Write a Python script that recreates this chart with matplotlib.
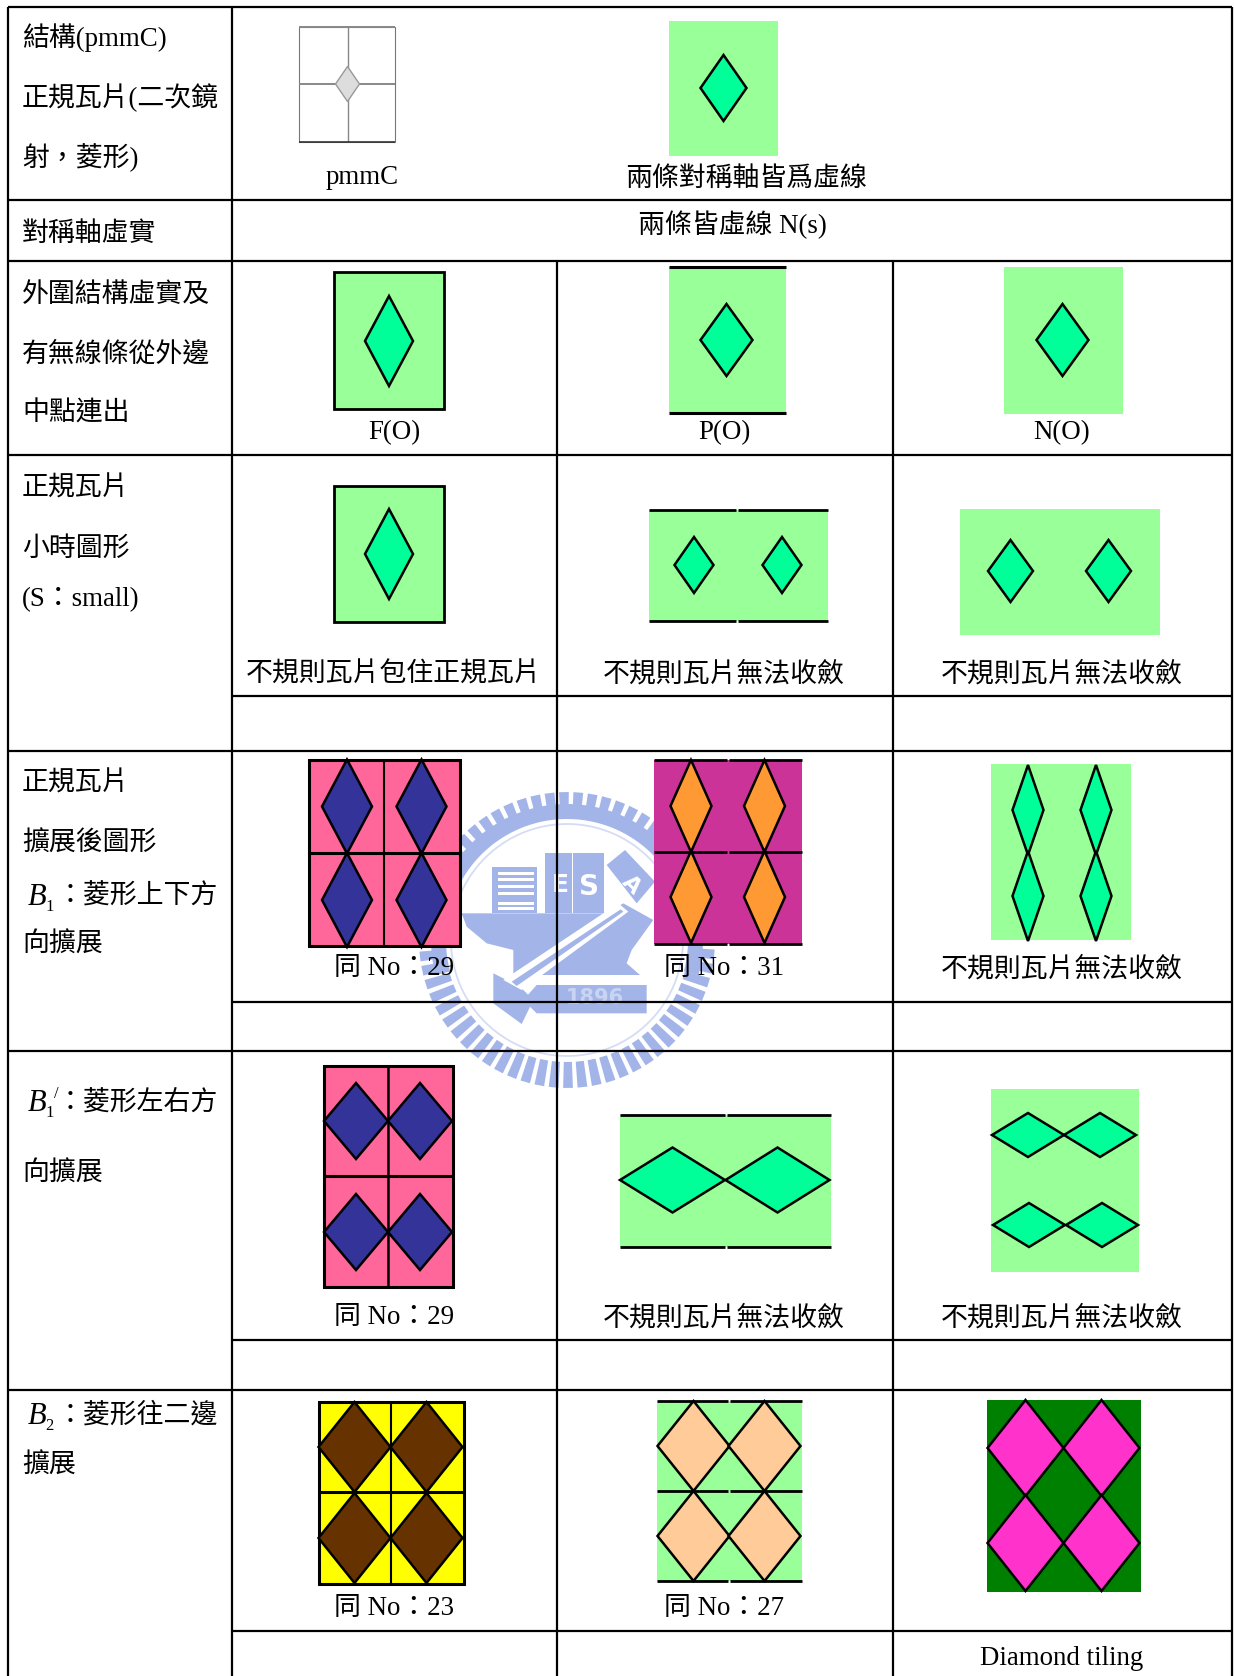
import numpy as np
import matplotlib
matplotlib.use("Agg")
import matplotlib.pyplot as plt
from matplotlib.patches import Rectangle, Polygon

FONTS = ['Liberation Serif', 'Noto Sans CJK TC', 'DejaVu Sans']
plt.rcParams['font.family'] = FONTS

# ---------- text content ----------
row_headers = ["結構(pmmC)", "正規瓦片(二次鏡", "射，菱形)", "對稱軸虛實",
               "外圍結構虛實及", "有無線條從外邊", "中點連出",
               "正規瓦片", "小時圖形", "(S：small)",
               "正規瓦片", "擴展後圖形", "向擴展", "向擴展", "擴展"]
row_header_y = [36, 97, 157, 231, 292, 352, 411, 486, 546, 597, 781, 841, 942, 1171, 1463]
math_headers = ["：菱形上下方", "：菱形左右方", "：菱形往二邊"]
math_header_y = [894, 1100, 1413]
math_subs = ["1", "1", "2"]

captions = ["pmmC", "兩條對稱軸皆爲虛線", "兩條皆虛線 N(s)",
            "F(O)", "P(O)", "N(O)",
            "不規則瓦片包住正規瓦片", "不規則瓦片無法收斂", "不規則瓦片無法收斂",
            "同 No：29", "同 No：31", "不規則瓦片無法收斂",
            "同 No：29", "不規則瓦片無法收斂", "不規則瓦片無法收斂",
            "同 No：23", "同 No：27", "Diamond tiling"]
caption_x = [362.5, 746, 732, 394, 724, 1062, 394, 724, 1062,
             394, 724, 1062, 394, 724, 1062, 394, 724, 1062]
caption_y = [175, 176, 224, 430, 430, 430, 672, 672, 672,
             965, 965, 967, 1314, 1316, 1316, 1605, 1605, 1655]

# ---------- table grid ----------
h_full = [7, 200, 261, 455, 751, 1051, 1390]
h_part = [696, 1002, 1340, 1631]
v_left, v_c1, v_c2, v_c3, v_right = 8, 232, 557, 893, 1232

GREEN, MINT = '#99FF99', '#00FF99'
PINK, NAVY = '#FF6699', '#333399'
PURPLE, ORANGE = '#CC3399', '#FF9933'
YELLOW, BROWN = '#FFFF00', '#663300'
PEACH = '#FFCC99'
DKGREEN, MAGENTA = '#008000', '#FF33CC'
LOGO = '#A3B5E8'

fig = plt.figure(figsize=(12.34, 16.76), dpi=100, facecolor='white')
ax = fig.add_axes([0, 0, 1, 1])
ax.set_xlim(0, 1234)
ax.set_ylim(1676, 0)
ax.axis('off')


# ---------- watermark ----------
def logo():
    cx, cy = 567, 940
    z = 2
    # teeth
    for a in np.arange(0, 360, 5.6):
        t = np.radians([a - 1.9, a + 1.9, a + 1.9, a - 1.9])
        r = np.array([122, 122, 148, 148])
        ax.add_patch(Polygon(np.c_[cx + r * np.cos(t), cy + r * np.sin(t)],
                             fc=LOGO, ec='none', zorder=z))
    # solid band, upper part
    t = np.radians(np.linspace(165, 375, 120))
    pts = np.r_[np.c_[cx + 136 * np.cos(t), cy + 136 * np.sin(t)],
                np.c_[cx + 121 * np.cos(t[::-1]), cy + 121 * np.sin(t[::-1])]]
    ax.add_patch(Polygon(pts, fc=LOGO, ec='none', zorder=z))
    # thin inner ring
    t = np.radians(np.linspace(0, 360, 200))
    ax.plot(cx + 116 * np.cos(t), cy + 116 * np.sin(t), color='#D5DDF4', lw=1.3, zorder=z)

    def zp(points, fc=LOGO):
        arr = np.array(points, float)
        ax.add_patch(Polygon(np.c_[410 + arr[:, 0] / 3, 770 + arr[:, 1] / 3],
                             fc=fc, ec='none', zorder=z + 0.1))
    # hull
    zp([(155, 430), (590, 430), (640, 400), (730, 450), (665, 540), (650, 580),
        (690, 615), (310, 615), (310, 540), (230, 520), (170, 470)])
    # cabins
    zp([(245, 290), (380, 290), (380, 430), (245, 430)])
    zp([(405, 250), (485, 250), (485, 430), (405, 430)])
    zp([(490, 250), (582, 250), (582, 430), (490, 430)])
    zp([(590, 285), (645, 240), (735, 335), (680, 400)])
    for yy in (305, 325, 345, 365, 395, 412):
        zp([(265, yy), (372, yy), (372, yy + 9), (265, yy + 9)], 'white')
    # diagonal
    zp([(250, 610), (330, 650), (370, 690), (335, 762), (250, 700)])
    zp([(280, 630), (625, 400), (655, 425), (335, 660)], 'white')
    zp([(305, 635), (632, 418), (640, 425), (320, 648)])
    # 1896 plate
    zp([(380, 645), (710, 645), (710, 730), (380, 730), (340, 690)])
    ax.text(410 + 555 / 3, 770 + 685 / 3, "1896", color='#C9D4F3', fontsize=15, fontweight='bold',
            ha='center', va='center', family=['DejaVu Sans'], zorder=z + 0.2)
    ax.text(410 + 452 / 3, 770 + 345 / 3, "E", color='white', fontsize=18, fontweight='bold',
            ha='center', va='center', family=['DejaVu Sans'], zorder=z + 0.2)
    ax.text(410 + 536 / 3, 770 + 350 / 3, "S", color='white', fontsize=20, fontweight='bold',
            ha='center', va='center', family=['DejaVu Sans'], zorder=z + 0.2)
    ax.text(410 + 665 / 3, 770 + 345 / 3, "A", color='white', fontsize=16, fontweight='bold',
            ha='center', va='center', rotation=-45, family=['DejaVu Sans'], zorder=z + 0.2)


logo()

# ---------- grid ----------
GRID_LW = 1.6
for y in h_full:
    ax.plot([v_left, v_right], [y, y], color='black', lw=GRID_LW, zorder=3, solid_capstyle='butt')
for y in h_part:
    ax.plot([v_c1, v_right], [y, y], color='black', lw=GRID_LW, zorder=3, solid_capstyle='butt')
for x, top in ((v_left, 7), (v_c1, 7), (v_right, 7), (v_c2, 261), (v_c3, 261)):
    ax.plot([x, x], [top, 1676], color='black', lw=GRID_LW, zorder=3, solid_capstyle='butt')


# ---------- tile helpers ----------
def bg(x0, x1, y0, y1, color):
    ax.add_patch(Rectangle((x0, y0), x1 - x0, y1 - y0, fc=color, ec='none', zorder=4))


def seg(x0, y0, x1, y1, lw=2.0, color='black'):
    ax.plot([x0, x1], [y0, y1], color=color, lw=lw, zorder=5, solid_capstyle='butt')


def box(x0, x1, y0, y1, lw=2.0, ec='black'):
    ax.add_patch(Rectangle((x0, y0), x1 - x0, y1 - y0, fc='none', ec=ec, lw=lw, zorder=5))


def diamond(cx, cy, hw, hh, fc, ec='black', lw=1.8):
    ax.add_patch(Polygon([(cx - hw, cy), (cx, cy - hh), (cx + hw, cy), (cx, cy + hh)],
                         closed=True, fc=fc, ec=ec, lw=lw, joinstyle='miter', zorder=6))


# Row 1
box(299, 394.5, 27, 142, lw=0.8, ec='#777777')
seg(347.5, 27, 347.5, 142, lw=1.0, color='#888888')
seg(299, 84, 394.5, 84, lw=1.4, color='#888888')
seg(299, 27, 394.5, 27, lw=1.4, color='#888888')
seg(299, 142, 394.5, 142, lw=1.2, color='#333333')
diamond(347.5, 84, 12, 17.5, '#DDDDDD', ec='#999999', lw=1.0)
bg(669, 777.5, 21, 156, GREEN)
diamond(723.5, 88, 23, 33, MINT)

# Row 3: F / P / N
bg(334, 443.5, 272, 409, GREEN)
box(334, 443.5, 272, 409)
diamond(389, 341, 24, 45, MINT)
bg(668.5, 785.5, 267, 413, GREEN)
seg(668.5, 267, 785.5, 267, lw=2.2)
seg(668.5, 413, 785.5, 413, lw=2.2)
diamond(726.5, 340, 26, 36, MINT)
bg(1003.5, 1122.5, 267, 414, GREEN)
diamond(1062.5, 340, 26, 36, MINT)

# Row 4: small
bg(334, 443.5, 486, 622, GREEN)
box(334, 443.5, 486, 622)
diamond(389, 554, 24, 45, MINT)
bg(648.5, 827.5, 510, 621, GREEN)
seg(648.5, 510, 736, 510, lw=2.0)
seg(738, 510, 827.5, 510, lw=2.0)
seg(648.5, 621, 736, 621, lw=2.0)
seg(738, 621, 827.5, 621, lw=2.0)
diamond(694, 565, 19.5, 28, MINT)
diamond(782, 565, 19.5, 28, MINT)
bg(959.5, 1159.5, 509, 635, GREEN)
diamond(1010.5, 571, 22.5, 31, MINT)
diamond(1108.5, 571, 22.5, 31, MINT)

# Row 5: B1
bg(309, 459.5, 760, 946, PINK)
box(309, 459.5, 760, 946, lw=2.2)
seg(309, 853, 459.5, 853, lw=2.2)
seg(384, 760, 384, 946, lw=1.5)
for cx in (347, 421.5):
    for cy in (806.5, 900):
        diamond(cx, cy, 25, 47, NAVY)
bg(653.5, 801.5, 760, 944, PURPLE)
for yy in (760, 852, 944):
    seg(653.5, yy, 727, yy, lw=2.0)
    seg(729, yy, 801.5, yy, lw=2.0)
for cx in (691, 764.5):
    for cy in (806, 897):
        diamond(cx, cy, 20.5, 46, ORANGE)
bg(990.5, 1131, 764, 940, GREEN)
for cx in (1028, 1096):
    for cy in (810, 896):
        diamond(cx, cy, 15.5, 45, MINT)

# Row 6: B1'
bg(323.5, 453, 1066, 1287, PINK)
box(323.5, 453, 1066, 1287, lw=2.2)
seg(323.5, 1176, 453, 1176, lw=2.2)
seg(388, 1066, 388, 1287, lw=1.8)
for cx in (356, 420):
    for cy in (1121, 1232):
        diamond(cx, cy, 32, 38, NAVY)
bg(619.5, 830.5, 1115, 1247, GREEN)
for yy in (1115, 1247):
    seg(619.5, yy, 725, yy, lw=2.0)
    seg(727, yy, 830.5, yy, lw=2.0)
diamond(672.5, 1180, 52.5, 32.5, MINT)
diamond(777.5, 1180, 52, 32.5, MINT)
bg(990.5, 1138.5, 1089, 1272, GREEN)
diamond(1028, 1135, 36, 22, MINT)
diamond(1100, 1135, 36, 22, MINT)
diamond(1029, 1225, 36, 22, MINT)
diamond(1102, 1225, 36, 22, MINT)

# Row 7: B2
bg(318.5, 463.5, 1402, 1584, YELLOW)
box(318.5, 463.5, 1402, 1584, lw=2.2)
seg(318.5, 1492, 463.5, 1492, lw=2.2)
seg(390.5, 1402, 390.5, 1584, lw=1.5)
for cx in (354.5, 426.5):
    for cy in (1447, 1538):
        diamond(cx, cy, 36, 45, BROWN)
bg(657, 801.5, 1401, 1581, GREEN)
for yy in (1401, 1491, 1581):
    seg(657, yy, 728, yy, lw=2.0)
    seg(730, yy, 801.5, yy, lw=2.0)
for cx in (693.5, 764.5):
    for cy in (1446, 1536):
        diamond(cx, cy, 36, 45, PEACH)
bg(986.5, 1140.5, 1400, 1592, DKGREEN)
for cx in (1025.5, 1101.5):
    for cy in (1448, 1543):
        diamond(cx, cy, 38, 48, MAGENTA)

# ---------- text ----------
FS = 19.4
BASE = 9.5


def put(x, y, s, ha='left', fs=FS, **kw):
    ax.text(x, y + BASE, s, fontsize=fs, ha=ha, va='baseline', color='black', zorder=8, **kw)


for s, y in zip(row_headers, row_header_y):
    put(22, y, s)
for s, y in zip(math_headers, math_header_y):
    put(57, y, s, family=['Noto Sans CJK TC'])
for sub, y in zip(math_subs, math_header_y):
    ax.text(28, y + BASE + 1, "B", fontsize=22, style='italic', family='Liberation Serif',
            ha='left', va='baseline', zorder=8)
    ax.text(45, y + BASE + 7, sub, fontsize=12, family='Liberation Serif',
            ha='left', va='baseline', zorder=8)
ax.text(54, math_header_y[1] + BASE - 12, "/", fontsize=12, family='Liberation Serif',
        ha='left', va='baseline', zorder=8)
for s, x, y in zip(captions, caption_x, caption_y):
    put(x, y, s, ha='center')

fig.savefig('out.png', dpi=100, facecolor='white')
